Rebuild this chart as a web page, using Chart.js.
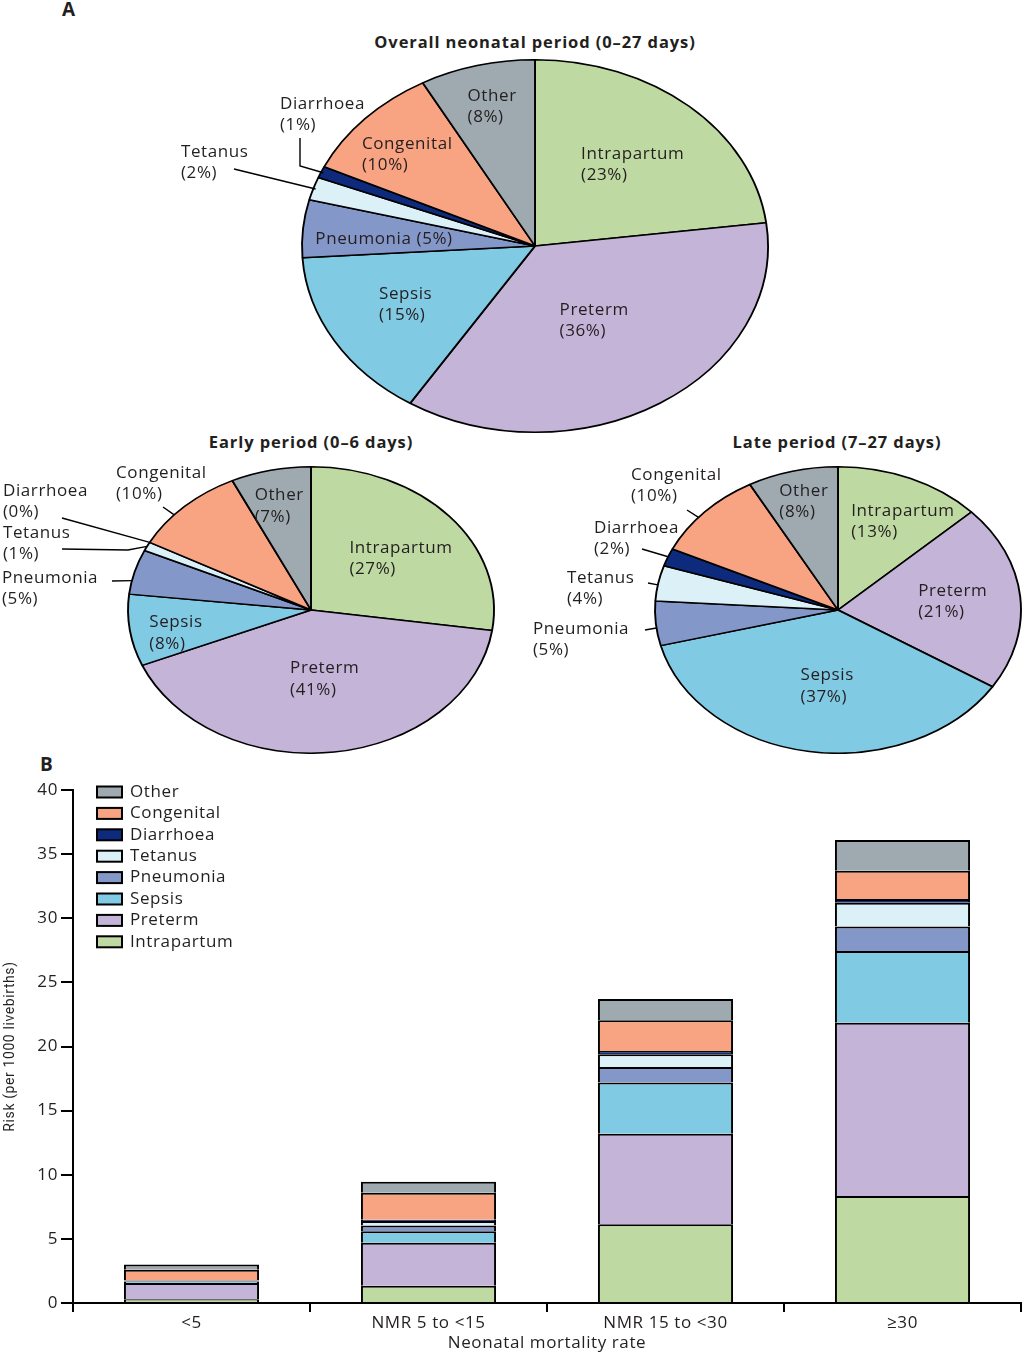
<!DOCTYPE html>
<html>
<head>
<meta charset="utf-8">
<script src="https://cdn.jsdelivr.net/npm/chart.js@4.4.0/dist/chart.umd.min.js"></script>
<style>
  body { margin: 0; background: #fff; width: 1024px; height: 1353px; position: relative; overflow: hidden;
         font-family: 'Open Sans', sans-serif; color: #231f20; }
  canvas { position: absolute; }
  .title { position: absolute; font-weight: bold; font-size: 16.5px; transform: translate(-50%, -50%); white-space: nowrap; letter-spacing: 0.9px; }
  .panel { position: absolute; font-weight: bold; font-size: 19px; }
</style>
</head>
<body>
<div class="panel" style="left:62px; top:-4px;">A</div>
<div class="title" style="left:535px; top:41px;">Overall neonatal period (0–27 days)</div>
<div class="title" style="left:311px; top:441px;">Early period (0–6 days)</div>
<div class="title" style="left:837px; top:441px;">Late period (7–27 days)</div>
<div class="panel" style="left:40px; top:751px;">B</div>

<canvas id="pieAll" width="1024" height="374" style="left:0; top:59px;"></canvas>
<canvas id="pieEarly" width="512" height="288" style="left:0; top:466px;"></canvas>
<canvas id="pieLate" width="512" height="288" style="left:512px; top:466px;"></canvas>
<canvas id="barChart" width="1024" height="593" style="left:0; top:760px;"></canvas>

<script>
// causas, en el orden en que se dibujan (pies desde las 12 en sentido horario, barras de abajo hacia arriba)
const causes = ['Intrapartum', 'Preterm', 'Sepsis', 'Pneumonia', 'Tetanus', 'Diarrhoea', 'Congenital', 'Other'];
const causeColors = ['#bed9a2', '#c4b4d8', '#80cae3', '#8497c9', '#dcf0f7', '#0d2a7c', '#f8a482', '#9fa9b0'];

// porcentajes de los pies
const overallPct = [23, 36, 15, 5, 2, 1, 10, 8];
const earlyPct = [27, 41, 8, 5, 1, 0, 10, 7];
const latePct = [13, 21, 37, 5, 4, 2, 10, 8];

// barras apiladas (riesgo por 1000 nacidos vivos)
const nmrGroups = ['<5', 'NMR 5 to <15', 'NMR 15 to <30', '≥30'];
const riskIntrapartum = [0.3, 1.35, 6.15, 8.35];
const riskPreterm = [1.25, 3.35, 7.05, 13.5];
const riskSepsis = [0.12, 0.9, 4.0, 5.6];
const riskPneumonia = [0.06, 0.45, 1.2, 1.9];
const riskTetanus = [0.02, 0.35, 1.0, 1.85];
const riskDiarrhoea = [0.05, 0.1, 0.25, 0.3];
const riskCongenital = [0.8, 2.1, 2.4, 2.2];
const riskOther = [0.4, 0.85, 1.65, 2.4];
const riskTicks = [0, 5, 10, 15, 20, 25, 30, 35, 40];

const FONT = "'Open Sans', sans-serif";
const INK = '#231f20';
const SPACING = '0.6px';
Chart.defaults.font.family = FONT;
Chart.defaults.font.size = 17;
Chart.defaults.color = INK;

// etiquetas de los pies: f/t = posicion dentro del sector, text/leader = etiqueta externa con linea
const overallLabels = [
    { f: 0.605, t: 0.53 },
    { f: 0.474, t: 0.5 },
    { f: 0.638, t: 0.52 },
    { f: 0.649, t: 0.39, oneLine: true },
    { text: [-354, -94], leader: [[-301, -77]], t: 0.5, r: 0.99 },
    { text: [-255, -142], leader: [[-235, -108], [-235, -80]], t: 0.5, r: 0.99 },
    { f: 0.735, t: 0.46 },
    { f: 0.77, t: 0.52 }
];
const earlyLabels = [
    { f: 0.608, t: 0.55 },
    { f: 0.49, t: 0.49 },
    { f: 0.755, t: 0.36 },
    { text: [-309, -32], leader: [[-199, -29]], t: 0.3, r: 1 },
    { text: [-308, -77], leader: [[-249, -61], [-183, -60]], t: 0.5, r: 1 },
    { text: [-308, -119], leader: [[-249, -92]], t: 0.5, r: 1 },
    { text: [-195, -137], leader: [[-148, -103]], t: 0.37, r: 1 },
    { f: 0.744, t: 0.47 }
];
const lateLabels = [
    { f: 0.71, t: 0.64 },
    { f: 0.63, t: 0.5 },
    { f: 0.534, t: 0.48 },
    { text: [-305, 19], leader: [[-193, 20]], t: 0.4, r: 1 },
    { text: [-271, -32], leader: [[-190, -27]], t: 0.45, r: 1 },
    { text: [-244, -82], leader: [[-196, -61]], t: 0.53, r: 1 },
    { text: [-207, -135], leader: [[-151, -100]], t: 0.42, r: 1 },
    { f: 0.78, t: 0.52 }
];

function arcPoint(arc, sx, t, r) {
    const a = arc.startAngle + (arc.endAngle - arc.startAngle) * t;
    return [arc.x + Math.cos(a) * arc.outerRadius * r * sx, arc.y + Math.sin(a) * arc.outerRadius * r];
}

// estira el pie a elipse y escribe las etiquetas
const pieLabelPlugin = {
    id: 'pieLabels',
    beforeUpdate(chart) { chart.ctx.letterSpacing = SPACING; },
    beforeDatasetsDraw(chart, args, opts) {
        const arc = chart.getDatasetMeta(0).data[0];
        const ctx = chart.ctx;
        ctx.save();
        ctx.translate(arc.x, arc.y);
        ctx.scale(opts.sx, 1);
        ctx.translate(-arc.x, -arc.y);
    },
    afterDatasetsDraw(chart, args, opts) {
        const ctx = chart.ctx;
        ctx.restore();
        const values = chart.data.datasets[0].data;
        const arcs = chart.getDatasetMeta(0).data;
        const lh = 21.5;
        ctx.save();
        ctx.letterSpacing = SPACING;
        ctx.font = '17px ' + FONT;
        ctx.fillStyle = INK;
        ctx.strokeStyle = '#000';
        ctx.lineWidth = 1.4;
        ctx.textBaseline = 'middle';
        ctx.textAlign = 'left';
        opts.labels.forEach((cfg, i) => {
            const arc = arcs[i];
            const name = chart.data.labels[i];
            const pct = '(' + values[i] + '%)';
            const lines = cfg.oneLine ? [name + ' ' + pct] : [name, pct];
            if (cfg.text) {
                const x0 = arc.x + cfg.text[0];
                const y0 = arc.y + cfg.text[1];
                lines.forEach((ln, k) => ctx.fillText(ln, x0, y0 + k * lh));
                const end = arcPoint(arc, opts.sx, cfg.t, cfg.r);
                ctx.beginPath();
                cfg.leader.forEach((p, k) => {
                    if (k === 0) ctx.moveTo(arc.x + p[0], arc.y + p[1]);
                    else ctx.lineTo(arc.x + p[0], arc.y + p[1]);
                });
                ctx.lineTo(end[0], end[1]);
                ctx.stroke();
            } else {
                const p = arcPoint(arc, opts.sx, cfg.t, cfg.f);
                const w = Math.max(...lines.map(ln => ctx.measureText(ln).width));
                lines.forEach((ln, k) => {
                    ctx.fillText(ln, p[0] - w / 2, p[1] + (k - (lines.length - 1) / 2) * lh);
                });
            }
        });
        ctx.restore();
    }
};

function makePie(id, values, labels, sx, padLeft) {
    return new Chart(document.getElementById(id), {
        type: 'pie',
        data: {
            labels: causes,
            datasets: [{
                data: values,
                backgroundColor: causeColors,
                borderColor: '#000',
                borderWidth: 1.5,
                clip: false
            }]
        },
        options: {
            responsive: false,
            animation: false,
            devicePixelRatio: 1,
            events: [],
            layout: { padding: { left: padLeft, right: 0, top: 0, bottom: 0 } },
            plugins: {
                legend: { display: false },
                tooltip: { enabled: false },
                pieLabels: { sx: sx, labels: labels }
            }
        },
        plugins: [pieLabelPlugin]
    });
}

makePie('pieAll', overallPct, overallLabels, 233 / 186.25, 46);
makePie('pieEarly', earlyPct, earlyLabels, 183 / 143.25, 110);
makePie('pieLate', latePct, lateLabels, 183 / 143.25, 140);

// leyenda dentro del area del grafico, de arriba (Other) hacia abajo (Intrapartum)
const stackLegend = {
    id: 'stackLegend',
    beforeUpdate(chart) { chart.ctx.letterSpacing = SPACING; },
    afterDraw(chart) {
        const ctx = chart.ctx;
        const area = chart.chartArea;
        const items = chart.data.datasets.slice().reverse();
        ctx.save();
        ctx.letterSpacing = SPACING;
        ctx.font = '17px ' + FONT;
        ctx.textBaseline = 'middle';
        ctx.textAlign = 'left';
        items.forEach((d, i) => {
            const y = area.top + 2 + i * 21.4;
            ctx.fillStyle = d.backgroundColor;
            ctx.fillRect(area.left + 24, y - 5.5, 25, 11);
            ctx.strokeStyle = '#000';
            ctx.lineWidth = 2;
            ctx.strokeRect(area.left + 24, y - 5.5, 25, 11);
            ctx.fillStyle = INK;
            ctx.fillText(d.label, area.left + 57, y);
        });
        ctx.restore();
    }
};

const riskSeries = [riskIntrapartum, riskPreterm, riskSepsis, riskPneumonia, riskTetanus, riskDiarrhoea, riskCongenital, riskOther];

new Chart(document.getElementById('barChart'), {
    type: 'bar',
    data: {
        labels: nmrGroups,
        datasets: causes.map((c, i) => ({
            label: c,
            data: riskSeries[i],
            backgroundColor: causeColors[i],
            borderColor: '#000',
            // cada segmento dibuja solo su borde superior: una sola linea de 2px entre segmentos
            borderWidth: { top: 2, bottom: 0, left: 2, right: 2 },
            borderSkipped: false,
            barPercentage: 0.57,
            categoryPercentage: 1
        }))
    },
    options: {
        responsive: false,
        animation: false,
        devicePixelRatio: 1,
        events: [],
        layout: { padding: { top: 30, left: 0, right: 3, bottom: 0 } },
        plugins: { legend: { display: false }, tooltip: { enabled: false } },
        scales: {
            x: {
                stacked: true,
                afterFit(scale) { scale.height = 50; },
                grid: { offset: true, drawOnChartArea: false, drawTicks: true, tickLength: 9, color: '#000', lineWidth: 2 },
                border: { color: '#000', width: 2 },
                ticks: { padding: 1, font: { size: 17 }, color: INK },
                title: { display: true, text: 'Neonatal mortality rate', font: { size: 17 }, color: INK, padding: { top: 0, bottom: 0 } }
            },
            y: {
                stacked: true,
                min: 0,
                max: 40,
                afterFit(scale) { scale.width = 73; },
                afterBuildTicks(scale) { scale.ticks = riskTicks.map(v => ({ value: v })); },
                grid: { drawOnChartArea: false, drawTicks: true, tickLength: 12, color: '#000', lineWidth: 2 },
                border: { color: '#000', width: 2 },
                ticks: { padding: 3, font: { size: 17 }, color: INK },
                title: { display: true, text: 'Risk (per 1000 livebirths)', font: { size: 14, family: "'Liberation Sans Narrow', 'Roboto', sans-serif" }, color: INK, padding: { top: 2, bottom: 0 } }
            }
        }
    },
    plugins: [stackLegend]
});
</script>
</body>
</html>
